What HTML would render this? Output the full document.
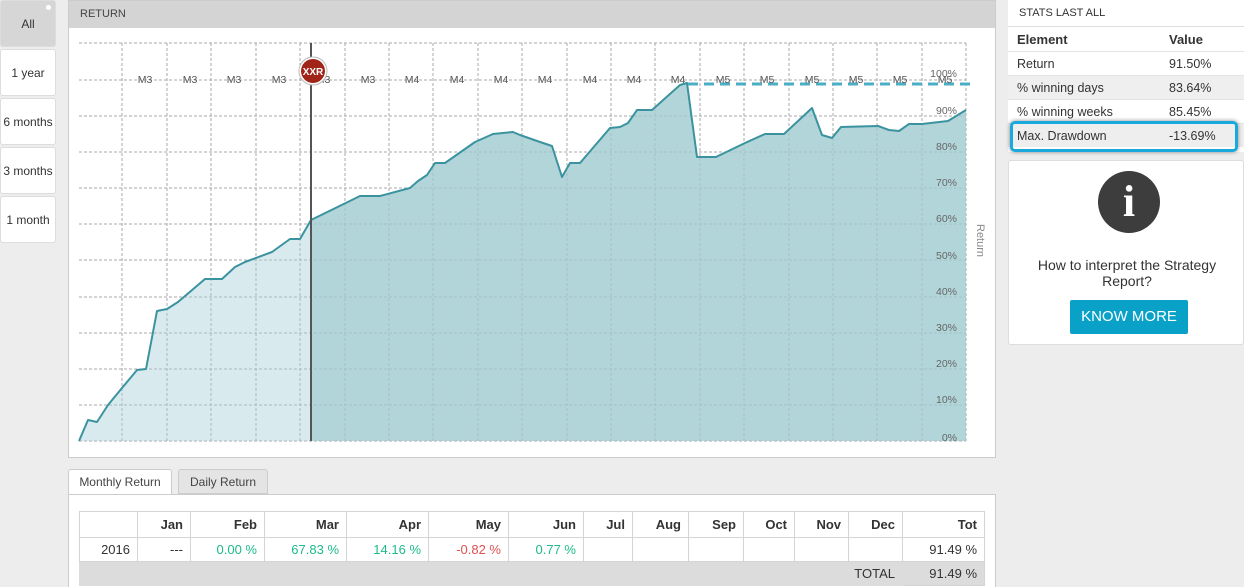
<!DOCTYPE html>
<html><head><meta charset="utf-8"><style>
body{margin:0;width:1244px;height:587px;background:#ededed;font-family:"Liberation Sans",Arial,sans-serif;position:relative;overflow:hidden}
.a{position:absolute}
.btn{position:absolute;left:0;width:56px;height:47px;background:#fff;border:1px solid #ddd;border-radius:3px;box-sizing:border-box;font-size:12px;color:#333;text-align:center;line-height:47px}
table{border-collapse:collapse}
.mt td{border:1px solid #d4d4d4;height:24px;padding:0 7px;text-align:right;font-size:13px;color:#333;box-sizing:border-box}
.mt tr.h td{font-weight:bold;font-size:13px;height:26px}
.mt td.g{color:#1bbc8a}.mt td.r{color:#e05050}
.st td{font-size:12.5px;color:#333;height:23px;padding:0 9px;border-top:1px solid #e2e2e2}
</style></head><body>
<div class="btn" style="top:0;background:#d6d6d6;width:56px">All<div class="a" style="right:4px;top:4px;width:5px;height:5px;border-radius:50%;background:#fff"></div></div>
<div class="btn" style="top:49px">1 year</div>
<div class="btn" style="top:98px">6 months</div>
<div class="btn" style="top:147px">3 months</div>
<div class="btn" style="top:196px">1 month</div>

<div class="a" style="left:68px;top:0;width:928px;height:458px;background:#fff;border:1px solid #ccc;box-sizing:border-box">
<div style="height:27px;background:#d4d4d4;font-size:11px;color:#444;line-height:27px;padding-left:11px">RETURN</div>
</div>
<svg class="a" style="left:0;top:0" width="1000" height="460">
<defs><filter id="sh" x="-5%" y="-200%" width="110%" height="500%"><feGaussianBlur stdDeviation="2.5"/></filter></defs>
<g stroke="#aaa" stroke-dasharray="3,2" stroke-width="1">
<line x1="79" y1="43" x2="966" y2="43"/><line x1="79" y1="80" x2="966" y2="80"/><line x1="79" y1="116" x2="966" y2="116"/><line x1="79" y1="152" x2="966" y2="152"/><line x1="79" y1="188" x2="966" y2="188"/><line x1="79" y1="224" x2="966" y2="224"/><line x1="79" y1="260" x2="966" y2="260"/><line x1="79" y1="297" x2="966" y2="297"/><line x1="79" y1="333" x2="966" y2="333"/><line x1="79" y1="369" x2="966" y2="369"/><line x1="79" y1="405" x2="966" y2="405"/><line x1="79" y1="441" x2="966" y2="441"/>
<line x1="122" y1="43" x2="122" y2="441"/><line x1="167" y1="43" x2="167" y2="441"/><line x1="211" y1="43" x2="211" y2="441"/><line x1="256" y1="43" x2="256" y2="441"/><line x1="300" y1="43" x2="300" y2="441"/><line x1="345" y1="43" x2="345" y2="441"/><line x1="389" y1="43" x2="389" y2="441"/><line x1="433" y1="43" x2="433" y2="441"/><line x1="478" y1="43" x2="478" y2="441"/><line x1="522" y1="43" x2="522" y2="441"/><line x1="567" y1="43" x2="567" y2="441"/><line x1="611" y1="43" x2="611" y2="441"/><line x1="655" y1="43" x2="655" y2="441"/><line x1="700" y1="43" x2="700" y2="441"/><line x1="744" y1="43" x2="744" y2="441"/><line x1="789" y1="43" x2="789" y2="441"/><line x1="833" y1="43" x2="833" y2="441"/><line x1="877" y1="43" x2="877" y2="441"/><line x1="922" y1="43" x2="922" y2="441"/><line x1="966" y1="43" x2="966" y2="441"/>
</g>
<polygon fill="#a9d0d6" fill-opacity="0.45" points="79,441 88,420 97,422 108,405 122,388 137,370 146,369 157,311 167,309 178,302 205,279 222,279 235,267 245,262 272,252 290,239 300,239 311,220 311,441"/>
<polygon fill="#9fcad0" fill-opacity="0.8" points="311,220 360,196 380,196 410,188 418,181 427,175 435,163 445,163 475,142 493,134 513,132 520,135 540,142 552,146 562,177 570,163 580,163 610,128 620,127 628,123 637,110 652,110 680,85 687,83 697,157 716,157 745,143 765,134 784,134 812,108 822,135 832,138 841,127 878,126 889,130 899,131 909,124 922,124 948,121 966,110 966,441 311,441"/>
<polyline fill="none" stroke="#3a939f" stroke-width="2" stroke-linejoin="round" points="79,441 88,420 97,422 108,405 122,388 137,370 146,369 157,311 167,309 178,302 205,279 222,279 235,267 245,262 272,252 290,239 300,239 311,220 360,196 380,196 410,188 418,181 427,175 435,163 445,163 475,142 493,134 513,132 520,135 540,142 552,146 562,177 570,163 580,163 610,128 620,127 628,123 637,110 652,110 680,85 687,83 697,157 716,157 745,143 765,134 784,134 812,108 822,135 832,138 841,127 878,126 889,130 899,131 909,124 922,124 948,121 966,110"/>
<line x1="311" y1="43" x2="311" y2="441" stroke="#555" stroke-width="2"/>
<line x1="688" y1="87" x2="972" y2="87" stroke="#999" stroke-width="3" stroke-dasharray="10,6" filter="url(#sh)"/>
<line x1="688" y1="84" x2="972" y2="84" stroke="#4aaec5" stroke-width="3" stroke-dasharray="10,6"/>
<g font-size="10.5" fill="#555" text-anchor="middle" font-family="Liberation Sans,sans-serif">
<text x="145" y="83">M3</text><text x="190" y="83">M3</text><text x="234" y="83">M3</text><text x="279" y="83">M3</text><text x="323" y="83">M3</text><text x="368" y="83">M3</text><text x="412" y="83">M4</text><text x="457" y="83">M4</text><text x="501" y="83">M4</text><text x="545" y="83">M4</text><text x="590" y="83">M4</text><text x="634" y="83">M4</text><text x="678" y="83">M4</text><text x="723" y="83">M5</text><text x="767" y="83">M5</text><text x="812" y="83">M5</text><text x="856" y="83">M5</text><text x="900" y="83">M5</text><text x="945" y="83">M5</text>
</g>
<g font-size="10.5" fill="#666" text-anchor="end" font-family="Liberation Sans,sans-serif">
<text x="957" y="77">100%</text><text x="957" y="114">90%</text><text x="957" y="150">80%</text><text x="957" y="186">70%</text><text x="957" y="222">60%</text><text x="957" y="259">50%</text><text x="957" y="295">40%</text><text x="957" y="331">30%</text><text x="957" y="367">20%</text><text x="957" y="403">10%</text><text x="957" y="441">0%</text>
</g>
<text x="0" y="0" transform="translate(977,224) rotate(90)" font-size="11" fill="#888" font-family="Liberation Sans,sans-serif">Return</text>
<circle cx="313" cy="71" r="14" fill="#fff" stroke="#bbb"/>
<circle cx="313" cy="71" r="12" fill="#a02418"/>
<text x="313" y="75" font-size="10" fill="#fff" font-weight="bold" text-anchor="middle" font-family="Liberation Sans,sans-serif">XXR</text>
</svg>

<div class="a" style="left:1008px;top:0;width:236px;height:152px;background:#fff">
<div style="height:27px;line-height:27px;font-size:11px;color:#333;padding-left:11px;border-bottom:1px solid #ddd;box-sizing:border-box">STATS LAST ALL</div>
<table class="st" style="width:236px">
<tr><td style="font-weight:bold;font-size:13px;border-top:none;height:24px;width:134px">Element</td><td style="font-weight:bold;font-size:13px;border-top:none">Value</td></tr>
<tr><td>Return</td><td>91.50%</td></tr>
<tr style="background:#efefef"><td>% winning days</td><td>83.64%</td></tr>
<tr><td>% winning weeks</td><td>85.45%</td></tr>
<tr style="background:#eee"><td>Max. Drawdown</td><td>-13.69%</td></tr>
</table>
</div>
<div class="a" style="left:1010px;top:121px;width:228px;height:31px;border:3px solid #1aa9dc;border-radius:5px;box-sizing:border-box;box-shadow:0 0 4px #888"></div>
<div class="a" style="left:1008px;top:160px;width:236px;height:185px;background:#fff;border:1px solid #ddd;border-radius:3px;box-sizing:border-box">
<div class="a" style="left:89px;top:10px;width:62px;height:62px;border-radius:50%;background:#3d3d3d;color:#fff;font-size:44px;font-weight:bold;text-align:center;line-height:62px;font-family:'Liberation Serif',serif">i</div>
<div class="a" style="left:0;top:96px;width:236px;text-align:center;font-size:14px;color:#333;line-height:16px">How to interpret the Strategy<br>Report?</div>
<div class="a" style="left:61px;top:139px;width:118px;height:34px;background:#0aa1c8;border-radius:2px;color:#fff;font-size:15px;text-align:center;line-height:34px">KNOW MORE</div>
</div>

<div class="a" style="left:68px;top:469px;width:104px;height:27px;background:#fff;border:1px solid #ccc;border-bottom:none;border-radius:3px 3px 0 0;box-sizing:border-box;font-size:12px;color:#444;line-height:24px;text-align:center">Monthly Return</div>
<div class="a" style="left:178px;top:469px;width:90px;height:25px;background:#e4e4e4;border:1px solid #ccc;border-radius:3px 3px 0 0;box-sizing:border-box;font-size:12px;color:#444;line-height:24px;text-align:center">Daily Return</div>
<div class="a" style="left:68px;top:494px;width:928px;height:93px;background:#fff;border:1px solid #ccc;border-bottom:none;box-sizing:border-box"></div>
<table class="mt a" style="left:79px;top:511px;width:906px">
<tr class="h"><td style="width:58px"></td><td style="width:53px">Jan</td><td style="width:74px">Feb</td><td style="width:82px">Mar</td><td style="width:82px">Apr</td><td style="width:80px">May</td><td style="width:75px">Jun</td><td style="width:49px">Jul</td><td style="width:56px">Aug</td><td style="width:55px">Sep</td><td style="width:51px">Oct</td><td style="width:54px">Nov</td><td style="width:54px">Dec</td><td>Tot</td></tr>
<tr><td>2016</td><td>---</td><td class="g">0.00 %</td><td class="g">67.83 %</td><td class="g">14.16 %</td><td class="r">-0.82 %</td><td class="g">0.77 %</td><td></td><td></td><td></td><td></td><td></td><td></td><td>91.49 %</td></tr>
<tr style="background:#dcdcdc"><td colspan="13" style="border-color:#dcdcdc">TOTAL</td><td>91.49 %</td></tr>
</table>
</body></html>
